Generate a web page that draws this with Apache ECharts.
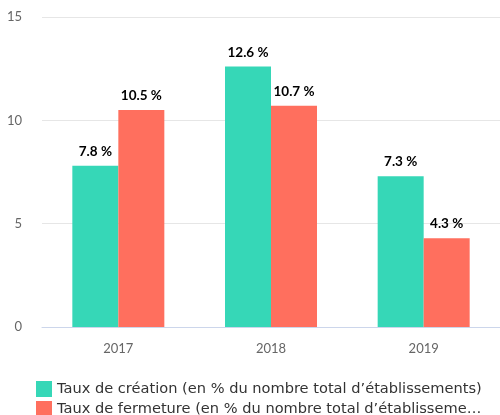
<!DOCTYPE html>
<html>
<head>
<meta charset="utf-8">
<script src="https://cdn.jsdelivr.net/npm/echarts@6/dist/echarts.min.js"></script>
<style>
  html, body { margin: 0; padding: 0; background: #fff; }
  #chart { width: 500px; height: 415px; }
</style>
</head>
<body>
<div id="chart"></div>
<script>
// données
var years = ["2017", "2018", "2019"];
var tauxCreation = [7.8, 12.6, 7.3];
var tauxFermeture = [10.5, 10.7, 4.3];
var nomCreation = "Taux de création (en % du nombre total d’établissements)";
var nomFermeture = "Taux de fermeture (en % du nombre total d’établissements)";

var font = "Lato, 'Noto Sans', sans-serif";

var chart = echarts.init(document.getElementById("chart"));

var labelStyle = {
  show: true,
  position: "top",
  distance: 7,
  formatter: "{c} %",
  fontFamily: font,
  fontSize: 13.5,
  fontWeight: "bold",
  color: "#000"
};

chart.setOption({
  animation: false,
  grid: {
    left: 42,
    right: -3,
    top: 17,
    bottom: 88
  },
  legend: {
    orient: "vertical",
    left: 31,
    top: 376,
    height: 80, // la légende dépasse en bas, comme l'original
    icon: "rect",
    itemWidth: 16,
    itemHeight: 16,
    itemGap: 4,
    textStyle: {
      fontFamily: "'DejaVu Sans', sans-serif",
      fontSize: 14.6,
      color: "#333",
      width: 436,
      overflow: "truncate",
      ellipsis: "…"
    },
    data: [nomCreation, nomFermeture]
  },
  xAxis: {
    type: "category",
    data: years,
    axisLine: { lineStyle: { color: "#ccd6eb", width: 1 } },
    axisTick: { show: false },
    axisLabel: {
      fontFamily: font,
      fontSize: 13,
      color: "#666",
      margin: 15
    }
  },
  yAxis: {
    type: "value",
    min: 0,
    max: 15,
    interval: 5,
    axisLine: { show: false },
    axisTick: { show: false },
    splitLine: { lineStyle: { color: "#e6e6e6", width: 1 } },
    axisLabel: {
      fontFamily: font,
      fontSize: 13,
      color: "#666",
      margin: 20
    }
  },
  series: [
    {
      name: nomCreation,
      type: "bar",
      data: tauxCreation,
      barWidth: 46,
      barGap: "0%",
      itemStyle: { color: "#36d7b7" },
      label: labelStyle
    },
    {
      name: nomFermeture,
      type: "bar",
      data: tauxFermeture,
      barWidth: 46,
      barGap: "0%",
      itemStyle: { color: "#ff6f5e" },
      label: labelStyle
    }
  ]
});
</script>
</body>
</html>
